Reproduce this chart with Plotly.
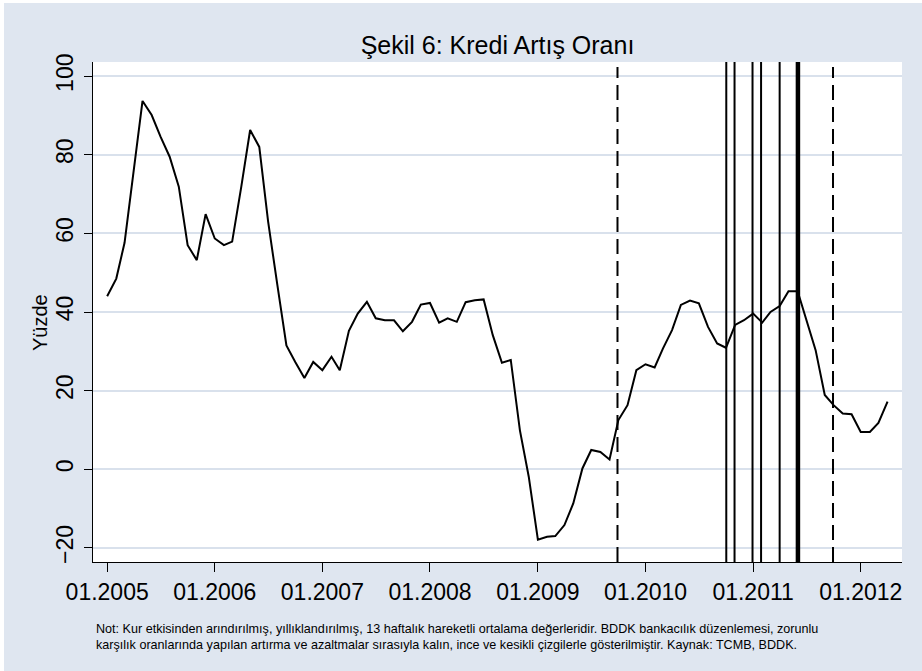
import pandas as pd
import plotly.graph_objects as go

# aylik kredi artis orani, 01.2005 - 04.2012
months = pd.date_range("2005-01-01", "2012-04-01", freq="MS")
kredi = [
    44.0, 48.5, 57.6, 76.0, 93.7, 90.1, 84.6, 79.5, 71.9, 57.0, 53.2, 64.9,
    58.7, 57.0, 57.9, 71.9, 86.3, 82.0, 63.0, 47.0, 31.5, 27.3, 23.2, 27.3,
    25.2, 28.6, 25.2, 35.2, 39.6, 42.6, 38.4, 37.9, 37.9, 35.1, 37.5, 41.9,
    42.3, 37.3, 38.4, 37.5, 42.5, 43.0, 43.2, 34.1, 27.1, 27.8, 9.9, -1.9,
    -17.9, -17.2, -17.0, -14.2, -8.7, 0.2, 4.9, 4.4, 2.5, 12.5, 16.3, 25.2,
    26.7, 25.9, 30.7, 35.4, 41.8, 42.9, 42.2, 36.2, 32.0, 30.9, 36.7, 37.9,
    39.6, 37.3, 40.0, 41.5, 45.3, 45.3, 37.9, 30.3, 18.9, 16.3, 14.2, 14.0,
    9.5, 9.5, 11.8, 17.2,
]

# duzenleme tarihleri: kalin = BDDK, ince = zorunlu karsilik artirimi, kesikli = indirim
kalin_tarih = ["2011-06-02"]
ince_tarih = ["2010-10-02", "2010-10-30", "2010-12-30", "2011-01-28", "2011-04-01"]
kesikli_tarih = ["2009-09-28", "2011-09-29"]

tick_tarih = ["2005-01-01", "2006-01-01", "2007-01-01", "2008-01-01",
              "2009-01-01", "2010-01-01", "2011-01-01", "2012-01-01"]
tick_etiket = ["01.2005", "01.2006", "01.2007", "01.2008",
               "01.2009", "01.2010", "01.2011", "01.2012"]

baslik = "Şekil 6: Kredi Artış Oranı"
not_metni = ("Not: Kur etkisinden arındırılmış, yıllıklandırılmış, 13 haftalık hareketli ortalama "
             "değerleridir. BDDK bankacılık düzenlemesi, zorunlu<br>karşılık oranlarında yapılan "
             "artırma ve azaltmalar sırasıyla kalın, ince ve kesikli çizgilerle gösterilmiştir. "
             "Kaynak: TCMB, BDDK.")

bg = "#dfe6f0"
font = "Liberation Sans, Arial, sans-serif"

fig = go.Figure()
fig.add_trace(go.Scatter(x=months, y=kredi, mode="lines",
                         line=dict(color="black", width=2), showlegend=False))

shapes = []
# arka plan (kenarda ince beyaz serit kalsin), sonra beyaz cizim alani
shapes.append(dict(type="rect", xref="paper", yref="paper",
                   x0=-0.110, x1=1.03, y0=-0.22, y1=1.118,
                   fillcolor=bg, line=dict(width=0), layer="below"))
shapes.append(dict(type="rect", xref="paper", yref="paper",
                   x0=0, x1=1, y0=0, y1=1,
                   fillcolor="white", line=dict(width=0), layer="below"))
for d in kalin_tarih:
    shapes.append(dict(type="line", xref="x", yref="paper", x0=d, x1=d, y0=0, y1=1,
                       line=dict(color="black", width=4.5)))
for d in ince_tarih:
    shapes.append(dict(type="line", xref="x", yref="paper", x0=d, x1=d, y0=0, y1=1,
                       line=dict(color="black", width=2)))
for d in kesikli_tarih:
    shapes.append(dict(type="line", xref="x", yref="paper", x0=d, x1=d, y0=0, y1=0.99,
                       line=dict(color="black", width=2, dash="15px,7px")))

fig.update_layout(
    width=922, height=671,
    margin=dict(l=93, r=20, t=62, b=109, autoexpand=False),
    paper_bgcolor="white",
    plot_bgcolor="white",
    font=dict(family=font, color="black"),
    title=dict(text=baslik, x=0.5, xanchor="center", y=0.933, yanchor="middle",
               xref="paper", font=dict(size=25, color="black")),
    shapes=shapes,
    annotations=[
        dict(text="Yüzde", xref="paper", yref="paper", x=(40 - 93) / 809, y=0.48,
             xanchor="center", yanchor="middle", textangle=-90, showarrow=False,
             font=dict(size=20)),
        dict(text=not_metni, xref="paper", yref="paper", x=(94 - 93) / 809,
             y=(562 - 620) / 500, xanchor="left", yanchor="top", align="left",
             showarrow=False, font=dict(size=12.6)),
    ],
)

fig.update_xaxes(
    type="date",
    range=["2004-11-14", "2012-05-20"],
    tickvals=tick_tarih, ticktext=tick_etiket,
    ticks="outside", ticklen=9, tickwidth=1, tickcolor="black",
    showline=True, linecolor="black", linewidth=1,
    showgrid=False, zeroline=False,
    tickfont=dict(size=23),
)
fig.update_yaxes(
    range=[-23.6, 103.6],
    tickvals=[-20, 0, 20, 40, 60, 80, 100],
    tickangle=-90, ticklabelstandoff=2,
    ticks="outside", ticklen=8, tickwidth=1, tickcolor="black",
    showline=True, linecolor="black", linewidth=1,
    showgrid=True, gridcolor="#d9e1ec", gridwidth=2,
    zeroline=False,
    tickfont=dict(size=23),
)

# sayfa kenar boslugunu kaldir
fig.write_html("out.html", config={"displayModeBar": False},
               post_script="document.body.style.margin='0';")
